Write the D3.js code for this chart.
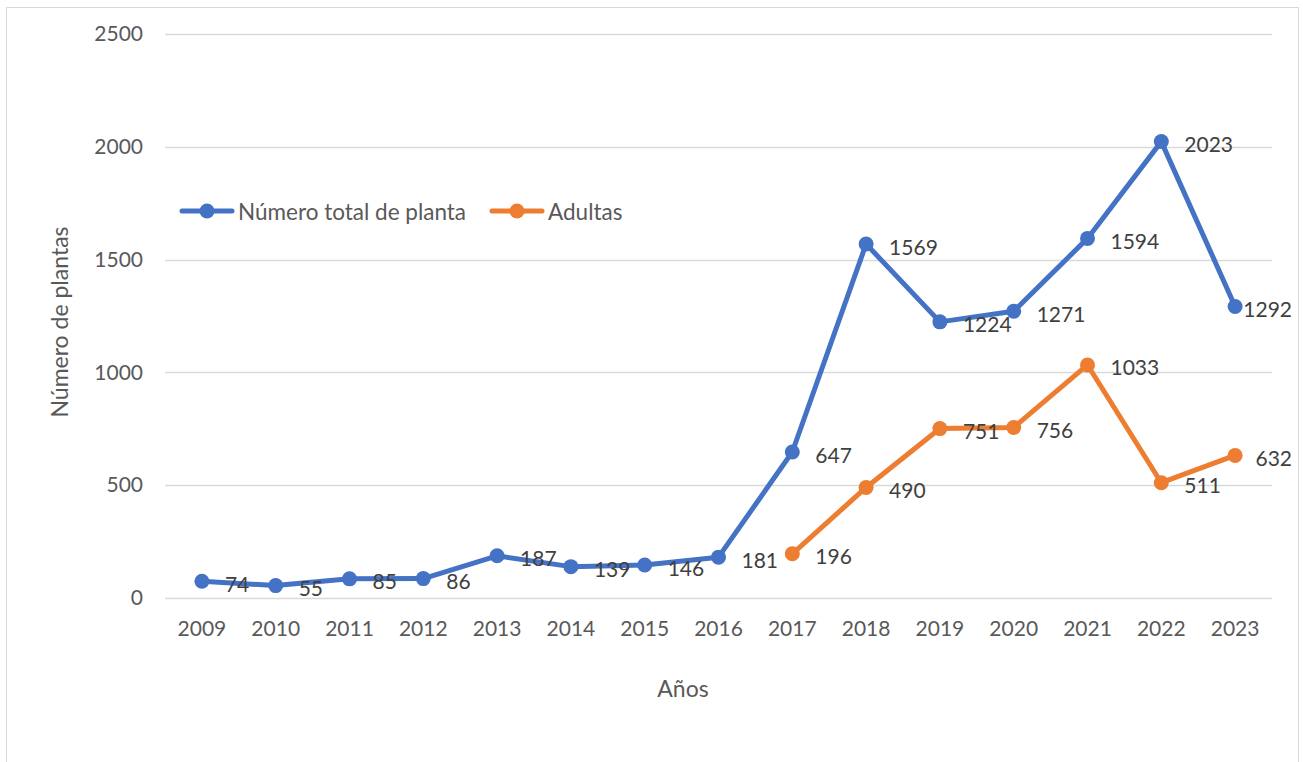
<!DOCTYPE html>
<html>
<head>
<meta charset="utf-8">
<script src="https://cdn.jsdelivr.net/npm/d3@7"></script>
<style>
  body { margin: 0; background: #fff; }
  text { font-family: Lato, "Liberation Sans", sans-serif; }
</style>
</head>
<body>
<div id="chart"></div>
<script>
const years = ["2009","2010","2011","2012","2013","2014","2015","2016","2017","2018","2019","2020","2021","2022","2023"];
const totalPlants = [74, 55, 85, 86, 187, 139, 146, 181, 647, 1569, 1224, 1271, 1594, 2023, 1292];
const adultPlants = [null, null, null, null, null, null, null, null, 196, 490, 751, 756, 1033, 511, 632];
const yTicks = [0, 500, 1000, 1500, 2000, 2500];
const seriesNames = ["Número total de planta", "Adultas"];
const seriesColors = ["#4472C4", "#ED7D31"];

const width = 1303;
const height = 762;
const plot = { left: 165, right: 1272, top: 34, bottom: 598 };
const fontFamily = "Lato, 'Liberation Sans', sans-serif";

const svg = d3.select("#chart")
  .append("svg")
  .attr("width", width)
  .attr("height", height);

// chart frame
svg.append("rect")
  .attr("x", 6.5)
  .attr("y", 7.5)
  .attr("width", 1292)
  .attr("height", 770)
  .attr("fill", "#fff")
  .attr("stroke", "#d9d9d9")
  .attr("stroke-width", 1);

const x = d3.scaleBand()
  .domain(years)
  .range([plot.left, plot.right]);

const y = d3.scaleLinear()
  .domain([0, 2500])
  .range([plot.bottom, plot.top]);

const cx = d => x(d) + x.bandwidth() / 2;

// gridlines
svg.append("g")
  .selectAll("line")
  .data(yTicks)
  .enter()
  .append("line")
  .attr("x1", plot.left)
  .attr("x2", plot.right)
  .attr("y1", d => Math.round(y(d)) + 0.5)
  .attr("y2", d => Math.round(y(d)) + 0.5)
  .attr("stroke", "#d9d9d9")
  .attr("stroke-width", 1.5);

// y axis labels
const yAxis = svg.append("g")
  .attr("transform", `translate(${plot.left - 22},0)`)
  .call(d3.axisLeft(y).tickValues(yTicks).tickFormat(d3.format("d")).tickSize(0).tickPadding(0));
yAxis.select(".domain").remove();
yAxis.selectAll("text")
  .attr("fill", "#595959")
  .attr("font-size", "21px")
  .attr("font-family", fontFamily);

// x axis labels
const xAxis = svg.append("g")
  .attr("transform", `translate(0,${plot.bottom + 23})`)
  .call(d3.axisBottom(x).tickSize(0).tickPadding(0));
xAxis.select(".domain").remove();
xAxis.selectAll("text")
  .attr("fill", "#595959")
  .attr("font-size", "21px")
  .attr("font-family", fontFamily);

// axis titles
svg.append("text")
  .attr("x", 683)
  .attr("y", 697)
  .attr("text-anchor", "middle")
  .attr("font-size", "23px")
  .attr("fill", "#595959")
  .text("Años");

svg.append("text")
  .attr("transform", "translate(68,322) rotate(-90)")
  .attr("text-anchor", "middle")
  .attr("font-size", "23px")
  .attr("fill", "#595959")
  .text("Número de plantas");

const series = [totalPlants, adultPlants];

const line = d3.line()
  .defined(d => d.v !== null)
  .x(d => cx(d.year))
  .y(d => y(d.v));

series.forEach((values, i) => {
  const pts = years.map((yr, j) => ({ year: yr, v: values[j] }));
  const valid = pts.filter(d => d.v !== null);
  const g = svg.append("g");

  g.append("path")
    .datum(pts)
    .attr("d", line)
    .attr("fill", "none")
    .attr("stroke", seriesColors[i])
    .attr("stroke-width", 5)
    .attr("stroke-linejoin", "round")
    .attr("stroke-linecap", "round");

  g.selectAll("circle")
    .data(valid)
    .enter()
    .append("circle")
    .attr("cx", d => cx(d.year))
    .attr("cy", d => y(d.v))
    .attr("r", 7.5)
    .attr("fill", seriesColors[i]);

  // data labels to the right of the points
  g.selectAll("text.data-label")
    .data(valid)
    .enter()
    .append("text")
    .attr("class", "data-label")
    .attr("x", d => cx(d.year) + 23)
    .attr("y", d => y(d.v) + 2)
    .attr("dominant-baseline", "central")
    .attr("font-size", "21px")
    .attr("fill", "#404040")
    .text(d => d.v)
    .each(function () {
      const box = this.getBBox();
      if (box.x + box.width > 1292) {
        d3.select(this).attr("x", 1292 - box.width);
      }
    });
});

// legend
const legend = svg.append("g");
const legendItems = [
  { name: seriesNames[0], color: seriesColors[0], x: 180 },
  { name: seriesNames[1], color: seriesColors[1], x: 490 }
];
legendItems.forEach(d => {
  legend.append("line")
    .attr("x1", d.x + 2)
    .attr("x2", d.x + 52)
    .attr("y1", 211)
    .attr("y2", 211)
    .attr("stroke", d.color)
    .attr("stroke-width", 5)
    .attr("stroke-linecap", "round");
  legend.append("circle")
    .attr("cx", d.x + 27)
    .attr("cy", 211)
    .attr("r", 7.5)
    .attr("fill", d.color);
  legend.append("text")
    .attr("x", d.x + 58)
    .attr("y", 211)
    .attr("dominant-baseline", "central")
    .attr("font-size", "22.5px")
    .attr("fill", "#595959")
    .text(d.name);
});
</script>
</body>
</html>
